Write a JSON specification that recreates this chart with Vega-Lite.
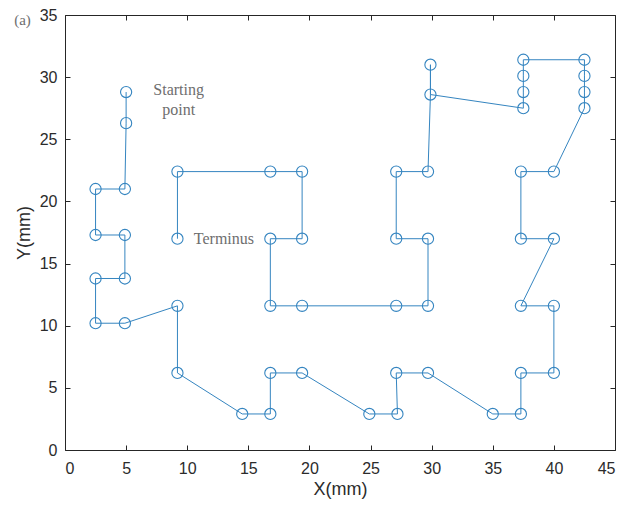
{
  "$schema": "https://vega.github.io/schema/vega-lite/v6.json",
  "autosize": "none",
  "width": 550,
  "height": 435,
  "padding": {"left": 65, "top": 15, "right": 10, "bottom": 57},
  "background": "white",
  "config": {
    "view": {"stroke": "#262626", "strokeWidth": 1},
    "axis": {
      "grid": false,
      "domain": false,
      "tickColor": "#262626",
      "tickSize": -5,
      "labelFont": "Liberation Sans",
      "labelFontSize": 16,
      "labelColor": "#2b2b2b",
      "titleFont": "Liberation Sans",
      "titleFontSize": 18,
      "titleFontWeight": "normal",
      "titleColor": "#2b2b2b"
    }
  },
  "datasets": {
    "path": [
      {"order": 1, "x": 5.0, "y": 28.8},
      {"order": 2, "x": 5.0, "y": 26.3},
      {"order": 3, "x": 4.9, "y": 21.0},
      {"order": 4, "x": 2.5, "y": 21.0},
      {"order": 5, "x": 2.5, "y": 17.3},
      {"order": 6, "x": 4.9, "y": 17.3},
      {"order": 7, "x": 4.9, "y": 13.8},
      {"order": 8, "x": 2.5, "y": 13.8},
      {"order": 9, "x": 2.5, "y": 10.2},
      {"order": 10, "x": 4.9, "y": 10.2},
      {"order": 11, "x": 9.2, "y": 11.6},
      {"order": 12, "x": 9.2, "y": 6.2},
      {"order": 13, "x": 14.5, "y": 2.9},
      {"order": 14, "x": 16.8, "y": 2.9},
      {"order": 15, "x": 16.8, "y": 6.2},
      {"order": 16, "x": 19.4, "y": 6.2},
      {"order": 17, "x": 24.9, "y": 2.9},
      {"order": 18, "x": 27.2, "y": 2.9},
      {"order": 19, "x": 27.1, "y": 6.2},
      {"order": 20, "x": 29.7, "y": 6.2},
      {"order": 21, "x": 35.0, "y": 2.9},
      {"order": 22, "x": 37.3, "y": 2.9},
      {"order": 23, "x": 37.3, "y": 6.2},
      {"order": 24, "x": 40.0, "y": 6.2},
      {"order": 25, "x": 40.0, "y": 11.6},
      {"order": 26, "x": 37.3, "y": 11.6},
      {"order": 27, "x": 40.0, "y": 17.0},
      {"order": 28, "x": 37.3, "y": 17.0},
      {"order": 29, "x": 37.3, "y": 22.4},
      {"order": 30, "x": 40.0, "y": 22.4},
      {"order": 31, "x": 42.5, "y": 27.5},
      {"order": 32, "x": 42.5, "y": 28.8},
      {"order": 33, "x": 42.5, "y": 30.1},
      {"order": 34, "x": 42.5, "y": 31.4},
      {"order": 35, "x": 37.5, "y": 31.4},
      {"order": 36, "x": 37.5, "y": 30.1},
      {"order": 37, "x": 37.5, "y": 28.8},
      {"order": 38, "x": 37.5, "y": 27.5},
      {"order": 39, "x": 29.9, "y": 28.6},
      {"order": 40, "x": 29.9, "y": 31.0},
      {"order": 41, "x": 29.9, "y": 28.6},
      {"order": 42, "x": 29.7, "y": 22.4},
      {"order": 43, "x": 27.1, "y": 22.4},
      {"order": 44, "x": 27.1, "y": 17.0},
      {"order": 45, "x": 29.7, "y": 17.0},
      {"order": 46, "x": 29.7, "y": 11.6},
      {"order": 47, "x": 27.1, "y": 11.6},
      {"order": 48, "x": 19.4, "y": 11.6},
      {"order": 49, "x": 16.8, "y": 11.6},
      {"order": 50, "x": 16.8, "y": 17.0},
      {"order": 51, "x": 19.4, "y": 17.0},
      {"order": 52, "x": 19.4, "y": 22.4},
      {"order": 53, "x": 16.8, "y": 22.4},
      {"order": 54, "x": 9.2, "y": 22.4},
      {"order": 55, "x": 9.2, "y": 17.0}
    ],
    "labels": [
      {"x": 9.3, "y": 29.0, "label": "Starting", "size": 16},
      {"x": 9.3, "y": 27.35, "label": "point", "size": 16},
      {"x": 13.0, "y": 16.95, "label": "Terminus", "size": 16},
      {"x": -3.48, "y": 34.6, "label": "(a)", "size": 15}
    ]
  },
  "resolve": {"axis": {"x": "independent", "y": "independent"}},
  "layer": [
    {
      "data": {"name": "path"},
      "mark": {"type": "line", "color": "#3585c0", "strokeWidth": 1},
      "encoding": {
        "x": {"field": "x", "type": "quantitative", "scale": {"domain": [0, 45], "nice": false, "zero": false},
              "axis": {"orient": "bottom", "title": "X(mm)", "values": [0,5,10,15,20,25,30,35,40,45], "labelPadding": 15, "titlePadding": 4}},
        "y": {"field": "y", "type": "quantitative", "scale": {"domain": [0, 35], "nice": false, "zero": false},
              "axis": {"orient": "left", "title": "Y(mm)", "values": [0,5,10,15,20,25,30,35], "labelPadding": 13, "titlePadding": 6}},
        "order": {"field": "order", "type": "quantitative"}
      }
    },
    {
      "data": {"name": "path"},
      "transform": [{"filter": "datum.order != 41"}],
      "mark": {"type": "point", "shape": "circle", "filled": false, "color": "#3585c0", "size": 125, "strokeWidth": 1.1, "opacity": 1},
      "encoding": {
        "x": {"field": "x", "type": "quantitative", "scale": {"domain": [0, 45], "nice": false, "zero": false},
              "axis": {"orient": "top", "title": null, "labels": false, "values": [0,5,10,15,20,25,30,35,40,45]}},
        "y": {"field": "y", "type": "quantitative", "scale": {"domain": [0, 35], "nice": false, "zero": false},
              "axis": {"orient": "right", "title": null, "labels": false, "values": [0,5,10,15,20,25,30,35]}}
      }
    },
    {
      "data": {"name": "labels"},
      "mark": {"type": "text", "font": "Liberation Serif", "color": "#6e6e6e", "align": "center", "baseline": "middle", "clip": false},
      "encoding": {
        "x": {"field": "x", "type": "quantitative", "axis": null},
        "y": {"field": "y", "type": "quantitative", "axis": null},
        "text": {"field": "label"},
        "size": {"field": "size", "type": "quantitative", "scale": null, "legend": null}
      }
    }
  ]
}
